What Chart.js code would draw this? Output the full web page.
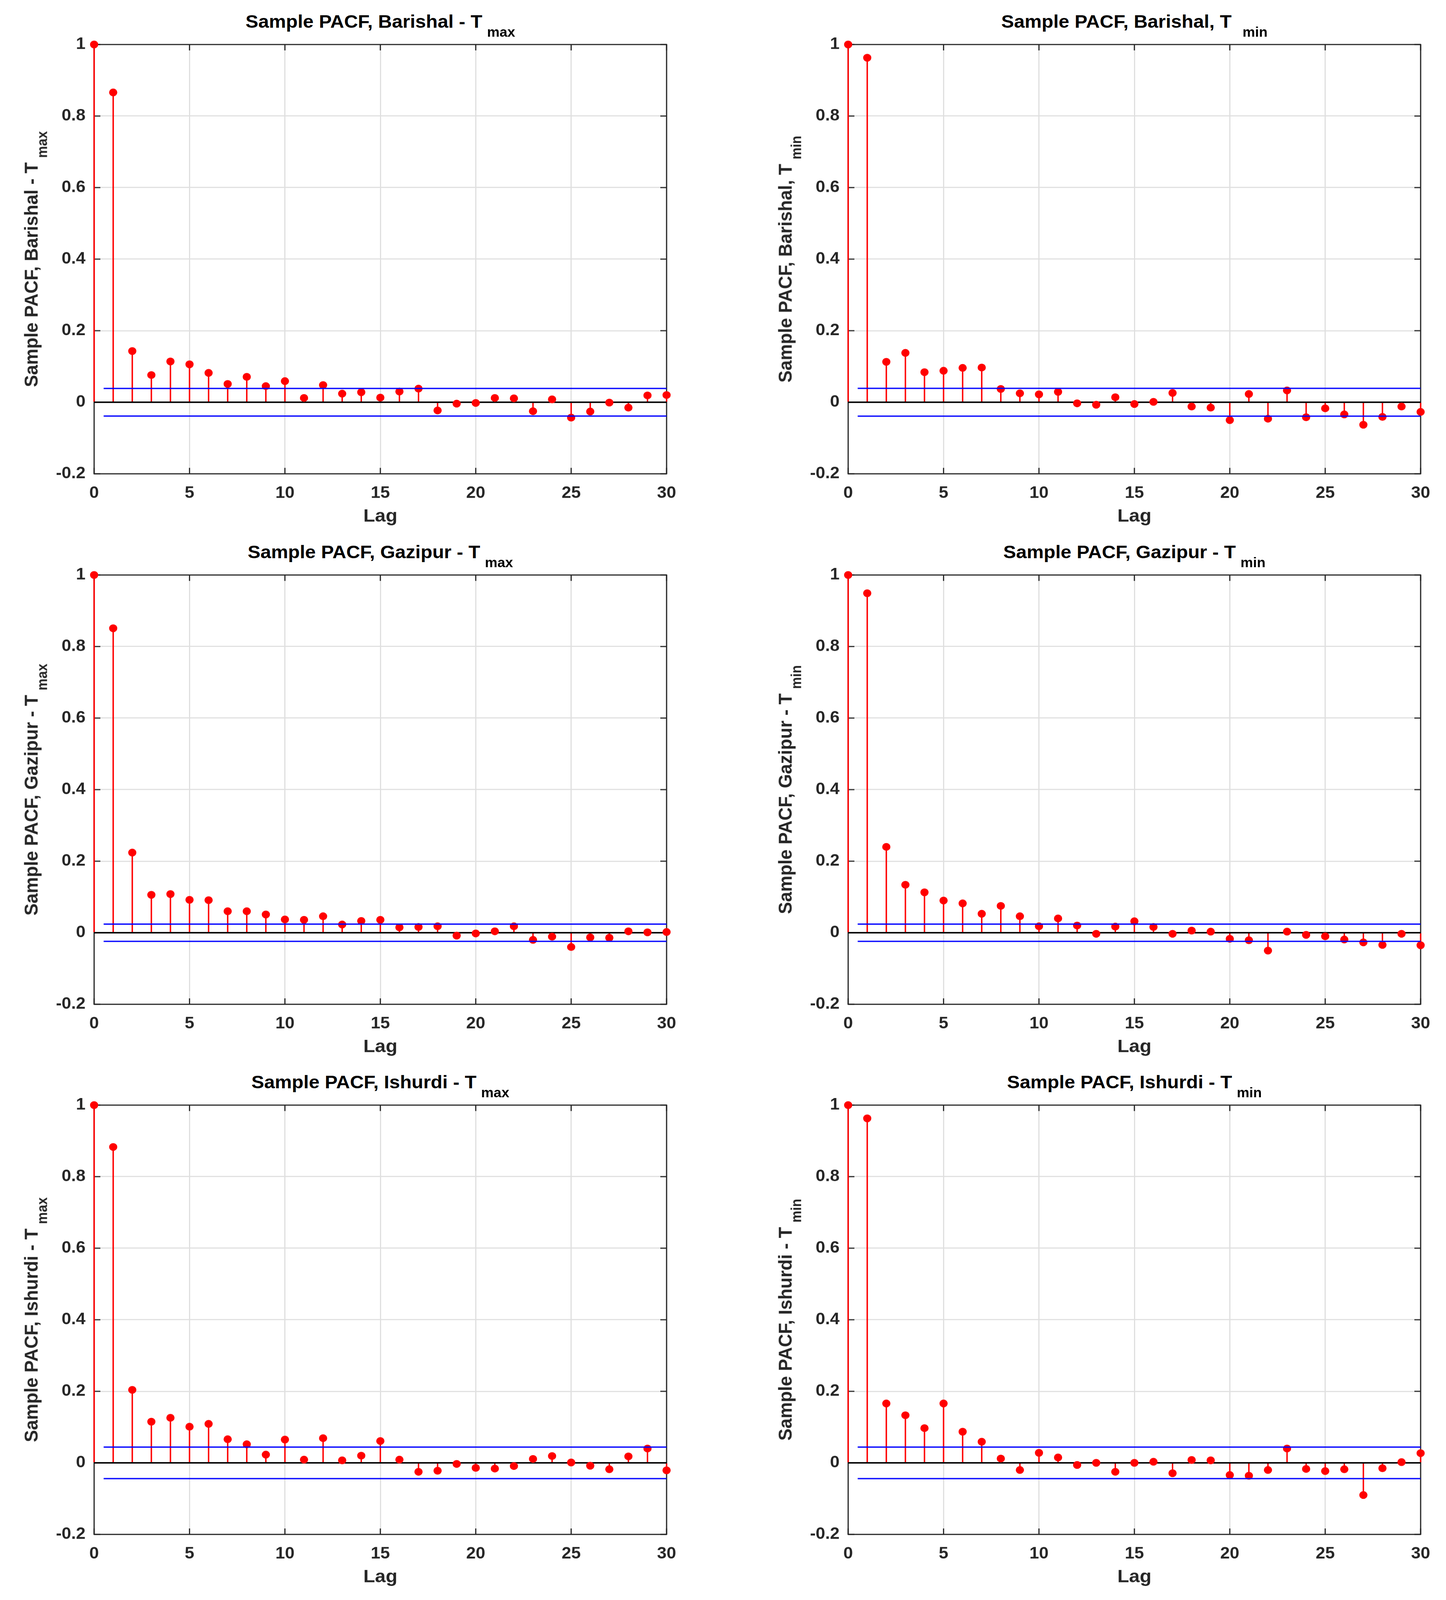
<!DOCTYPE html>
<html>
<head>
<meta charset="utf-8">
<script src="https://cdn.jsdelivr.net/npm/chart.js@4.4.1/dist/chart.umd.min.js"></script>
<style>
html, body { margin: 0; padding: 0; background: #fff; overflow: hidden; }
#fig { position: relative; width: 3703px; height: 4316px; background: #fff; overflow: hidden;
       transform-origin: 0 0;
       font-family: "Liberation Sans", Arial, sans-serif; font-weight: bold; }
canvas { position: absolute; }
.ttl, .ylab { position: absolute; white-space: nowrap; font-size: 49px; line-height: 49px; }
.ttl { color: #000; transform: translateX(-50%); }
.ylab { color: #262626; transform: translate(-50%, -50%) rotate(-90deg); }
.ttl span, .ylab span { font-size: 36px; position: relative; top: 24px; margin-left: 12px; }
.ttl span.wide { margin-left: 28px; }
</style>
</head>
<body>
<div id="fig"></div>
<script>
const lags = [0, 1, 2, 3, 4, 5, 6, 7, 8, 9, 10, 11, 12, 13, 14, 15, 16, 17, 18, 19, 20,
              21, 22, 23, 24, 25, 26, 27, 28, 29, 30];
const xTicks = [0, 5, 10, 15, 20, 25, 30];
const yTicks = [-0.2, 0, 0.2, 0.4, 0.6, 0.8, 1];

const barishalTmax = [1, 0.866, 0.143, 0.076, 0.114, 0.106, 0.082, 0.051, 0.071, 0.045, 0.059,
    0.012, 0.048, 0.024, 0.028, 0.013, 0.030, 0.038, -0.023, -0.004, -0.002,
    0.012, 0.011, -0.025, 0.008, -0.043, -0.026, -0.001, -0.015, 0.019, 0.020];
const barishalTmin = [1, 0.963, 0.113, 0.138, 0.084, 0.088, 0.096, 0.097, 0.037, 0.025, 0.022,
    0.029, -0.003, -0.007, 0.014, -0.005, 0.001, 0.026, -0.012, -0.015, -0.050,
    0.023, -0.046, 0.033, -0.042, -0.017, -0.034, -0.063, -0.041, -0.012, -0.027];
const gazipurTmax = [1, 0.851, 0.224, 0.106, 0.108, 0.092, 0.091, 0.060, 0.060, 0.051, 0.037,
    0.036, 0.046, 0.023, 0.033, 0.036, 0.015, 0.016, 0.018, -0.008, -0.002,
    0.004, 0.018, -0.020, -0.011, -0.040, -0.013, -0.014, 0.004, 0.001, 0.002];
const gazipurTmin = [1, 0.949, 0.240, 0.134, 0.113, 0.090, 0.082, 0.053, 0.075, 0.046, 0.018,
    0.040, 0.020, -0.003, 0.017, 0.032, 0.016, -0.003, 0.006, 0.003, -0.017,
    -0.021, -0.050, 0.003, -0.006, -0.010, -0.019, -0.027, -0.034, -0.003, -0.035];
const ishurdiTmax = [1, 0.883, 0.204, 0.115, 0.126, 0.101, 0.109, 0.066, 0.052, 0.023, 0.065,
    0.009, 0.069, 0.007, 0.020, 0.061, 0.009, -0.025, -0.022, -0.003, -0.014,
    -0.016, -0.009, 0.011, 0.019, 0.001, -0.008, -0.018, 0.018, 0.040, -0.021];
const ishurdiTmin = [1, 0.963, 0.166, 0.133, 0.097, 0.166, 0.087, 0.059, 0.012, -0.020, 0.028,
    0.015, -0.006, 0.000, -0.025, 0.000, 0.003, -0.029, 0.008, 0.007, -0.034,
    -0.036, -0.020, 0.040, -0.017, -0.023, -0.018, -0.090, -0.015, 0.002, 0.027];

// confidence bounds (+/-), one per panel
const confBounds = [0.0387, 0.0388, 0.0242, 0.0242, 0.0441, 0.0441];
const boundStartLag = 0.5;

const titles = ["Sample PACF, Barishal - T", "Sample PACF, Barishal, T",
                "Sample PACF, Gazipur - T", "Sample PACF, Gazipur - T",
                "Sample PACF, Ishurdi - T", "Sample PACF, Ishurdi - T"];
const subs = ["max", "min", "max", "min", "max", "min"];
const series = [barishalTmax, barishalTmin, gazipurTmax, gazipurTmin, ishurdiTmax, ishurdiTmin];

// layout
const FIG_W = 3703, FIG_H = 4316;
const PW = 1466, PH = 1158;
const colLeft = [241, 2172];
const rowTop = [120, 1551, 2981];
const FONT = "'Liberation Sans', Arial, sans-serif";
const gridColor = "#dfdfdf";

const boxPlugin = {
    id: "box",
    beforeDatasetsDraw(chart) {
        const { ctx, chartArea: a, scales: { x, y } } = chart;
        ctx.save();
        ctx.strokeStyle = "#262626";
        ctx.lineWidth = 3;
        ctx.beginPath();
        xTicks.forEach(v => {
            const px = x.getPixelForValue(v);
            ctx.moveTo(px, a.bottom); ctx.lineTo(px, a.bottom - 16);
            ctx.moveTo(px, a.top); ctx.lineTo(px, a.top + 16);
        });
        yTicks.forEach(v => {
            const py = y.getPixelForValue(v);
            ctx.moveTo(a.left, py); ctx.lineTo(a.left + 16, py);
            ctx.moveTo(a.right, py); ctx.lineTo(a.right - 16, py);
        });
        ctx.stroke();
        ctx.strokeRect(a.left, a.top, a.right - a.left, a.bottom - a.top);
        ctx.restore();
    }
};

const fig = document.getElementById("fig");

// keep the whole figure inside the visible window
const sx = document.documentElement.clientWidth / FIG_W;
const sy = document.documentElement.clientHeight / FIG_H;
if (Math.abs(sx - 1) > 0.002 || Math.abs(sy - 1) > 0.002) {
    fig.style.transform = "scale(" + sx + "," + sy + ")";
}

series.forEach((vals, i) => {
    const left = colLeft[i % 2];
    const top = rowTop[Math.floor(i / 2)];
    const b = confBounds[i];
    const pts = lags.map((l, k) => ({ x: l, y: vals[k] }));
    const lastLag = lags[lags.length - 1];

    const cv = document.createElement("canvas");
    cv.width = PW + 240;
    cv.height = PH + 190;
    cv.style.left = (left - 200) + "px";
    cv.style.top = (top - 30) + "px";
    fig.appendChild(cv);

    new Chart(cv.getContext("2d"), {
        type: "scatter",
        data: {
            datasets: [
                { type: "line", data: [{ x: boundStartLag, y: b }, { x: lastLag, y: b }],
                  borderColor: "#0000ff", borderWidth: 3.5, pointRadius: 0, order: 0, clip: false },
                { type: "line", data: [{ x: boundStartLag, y: -b }, { x: lastLag, y: -b }],
                  borderColor: "#0000ff", borderWidth: 3.5, pointRadius: 0, order: 0, clip: false },
                { type: "scatter", data: pts, backgroundColor: "#ff0000", borderColor: "#ff0000",
                  borderWidth: 0, pointRadius: 10.5, order: 1, clip: false },
                { type: "line", data: [{ x: lags[0], y: 0 }, { x: lastLag, y: 0 }],
                  borderColor: "#000000", borderWidth: 4, pointRadius: 0, order: 2, clip: false },
                { type: "bar", data: pts, backgroundColor: "#ff0000", barThickness: 3,
                  grouped: false, order: 3, clip: false }
            ]
        },
        options: {
            responsive: false,
            animation: false,
            devicePixelRatio: 1,
            layout: { padding: { left: 0, right: 40, top: 30, bottom: 0 } },
            plugins: { legend: { display: false }, tooltip: { enabled: false } },
            scales: {
                x: {
                    type: "linear", min: 0, max: 30, offset: false,
                    afterFit: s => { s.height = 160; s.paddingLeft = 0; s.paddingRight = 0; },
                    afterBuildTicks: s => { s.ticks = xTicks.map(v => ({ value: v })); },
                    grid: { color: gridColor, lineWidth: 3, drawTicks: false, offset: false },
                    border: { display: false },
                    ticks: { padding: 26, color: "#262626", maxRotation: 0, autoSkip: false,
                             font: { family: FONT, size: 44, weight: "bold" } },
                    title: { display: true, text: "Lag", color: "#262626", padding: { top: 0, bottom: 15 },
                             font: { family: FONT, size: 49, weight: "bold" } }
                },
                y: {
                    type: "linear", min: -0.2, max: 1,
                    afterFit: s => { s.width = 200; s.paddingTop = 0; s.paddingBottom = 0; },
                    afterBuildTicks: s => { s.ticks = yTicks.map(v => ({ value: v })); },
                    grid: { color: gridColor, lineWidth: 3, drawTicks: false },
                    border: { display: false },
                    ticks: { padding: 22, color: "#262626", callback: v => String(v),
                             font: { family: FONT, size: 44, weight: "bold" } }
                }
            }
        },
        plugins: [boxPlugin]
    });

    const t = document.createElement("div");
    t.className = "ttl";
    t.style.left = (left + PW / 2) + "px";
    t.style.top = (top - 86) + "px";
    t.innerHTML = titles[i] + "<span" + (i === 1 ? " class=\"wide\"" : "") + ">" + subs[i] + "</span>";
    fig.appendChild(t);

    const yl = document.createElement("div");
    yl.className = "ylab";
    yl.style.left = (left - 159) + "px";
    yl.style.top = (top + PH / 2) + "px";
    yl.innerHTML = titles[i] + "<span>" + subs[i] + "</span>";
    fig.appendChild(yl);
});
</script>
</body>
</html>
